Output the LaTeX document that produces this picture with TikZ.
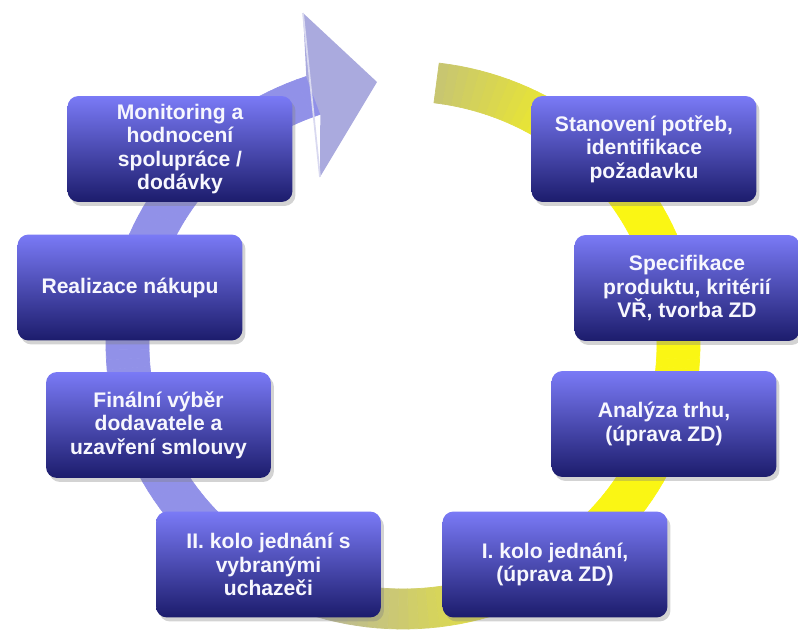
\documentclass[tikz,border=0pt]{standalone}
\usepackage{fontspec}
\setmainfont{Liberation Sans}
\usetikzlibrary{shapes,shadows}

\definecolor{ringyellow}{RGB}{250,246,20}
\definecolor{ringolive}{RGB}{200,198,112}
\definecolor{ringlav}{RGB}{145,145,232}
\definecolor{ringhead}{RGB}{170,170,222}
\definecolor{boxtop}{RGB}{122,122,246}
\definecolor{boxmid}{RGB}{80,80,212}
\definecolor{boxbot}{RGB}{28,28,108}

\begin{document}
\begin{tikzpicture}[x=0.02cm, y=0.02cm]
    \tikzstyle{stage} = [rectangle, rounded corners=0.22cm, minimum width=4.5cm, minimum height=2.12cm, top color=boxtop, middle color=boxmid, bottom color=boxbot, text=white!94!boxtop, align=center, font=\bfseries\fontsize{12}{13.3}\selectfont, drop shadow={opacity=0.35, shadow xshift=0.06cm, shadow yshift=-0.08cm}]
    \tikzstyle{seg} = [line width=0.4pt]

    \useasboundingbox (0,0) rectangle (798,633);

    % ring: from the tail (top right) clockwise round to the head
    \foreach \a in {83,81,...,-249} {
        \pgfmathtruncatemacro{\omix}{max(0,min(100,(83-\a)*3))}
        \pgfmathtruncatemacro{\ymix}{max(0,min(100,(\a+135)*1.25))}
        \colorlet{segtop}{ringyellow!\omix!ringolive}
        \colorlet{segcol}{segtop!\ymix!ringlav}
        \fill[segcol, draw=segcol, seg] ({403+297*cos(\a)},{288+284*sin(\a)}) -- ({403+297*cos(\a-2)},{288+284*sin(\a-2)}) -- ({403+254*cos(\a-2)},{288+244*sin(\a-2)}) -- ({403+254*cos(\a)},{288+244*sin(\a)}) -- cycle;
    }

    % arrow head
    \fill[ringhead] (306.3,556.5) coordinate (hout) -- (303,620) coordinate (hbase1) -- (377,551) coordinate (htip) -- (320,456) coordinate (hbase2) -- (320.3,518.7) coordinate (hin) -- cycle;
    \draw[white!55!ringhead, line width=1pt] (hbase1) -- (hbase2);

    \node[stage] (monitor) at (180,484) {Monitoring a\\hodnocení\\spolupráce /\\dodávky};
    \node[stage] (needs) at (644,484) {Stanovení potřeb,\\identifikace\\požadavku};
    \node[stage] (spec) at (687,345) {Specifikace\\produktu, kritérií\\VŘ, tvorba ZD};
    \node[stage] (market) at (664,209) {Analýza trhu,\\(úprava ZD)};
    \node[stage] (round1) at (555,68.5) {I. kolo jednání,\\(úprava ZD)};
    \node[stage] (round2) at (268.5,68.5) {II. kolo jednání s\\vybranými\\uchazeči};
    \node[stage] (final) at (158.5,208) {Finální výběr\\dodavatele a\\uzavření smlouvy};
    \node[stage] (purchase) at (130,345.5) {Realizace nákupu};
\end{tikzpicture}
\end{document}
